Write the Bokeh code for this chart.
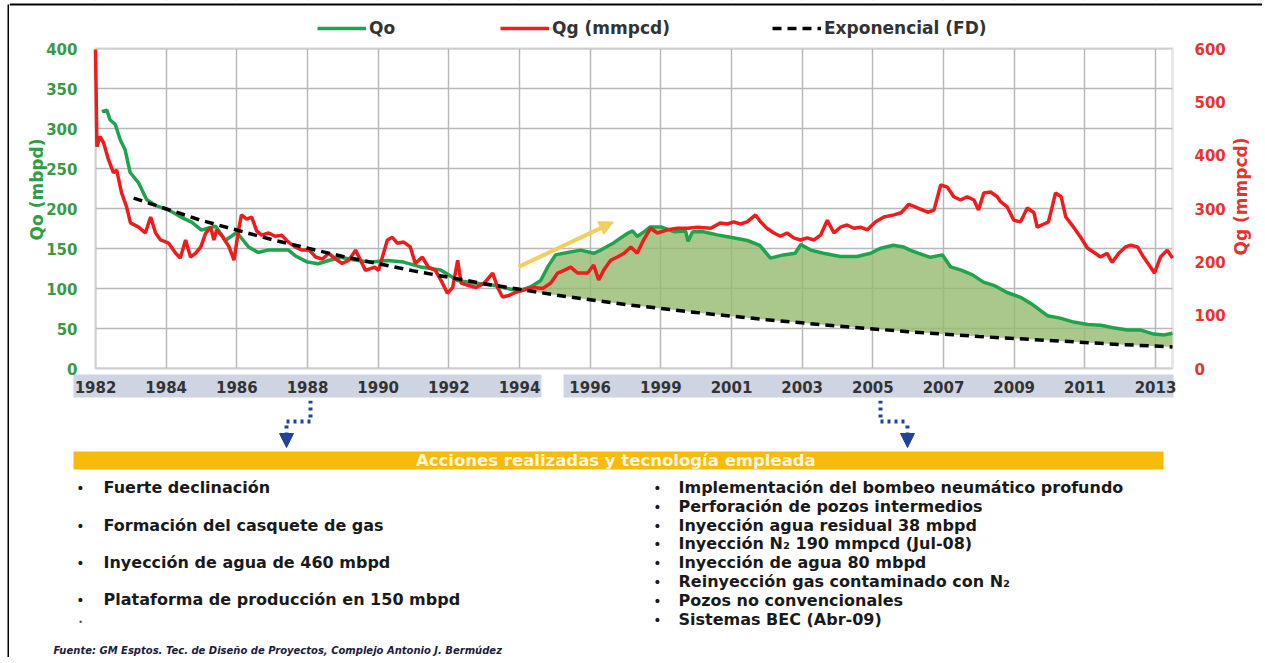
import math
from bokeh.plotting import figure
from bokeh.layouts import column, row
from bokeh.models import (Range1d, LinearAxis, FixedTicker, Label, BoxAnnotation, Span,
                          Arrow, NormalHead, Legend, LegendItem)
from bokeh.embed import file_html
from bokeh.resources import INLINE

# ---------------- data (x = position on the time axis) ----------------
tick_pos = [1982, 1984, 1986, 1988, 1990, 1992, 1994, 1996, 1998, 2000, 2002, 2004, 2006, 2008, 2010, 2012]
tick_labels = ["1982", "1984", "1986", "1988", "1990", "1992", "1994", "1996",
               "1999", "2001", "2003", "2005", "2007", "2009", "2011", "2013"]
qo_ticks = [0, 50, 100, 150, 200, 250, 300, 350, 400]
qg_ticks = [0, 100, 200, 300, 400, 500, 600]

qo_x = [1982.18, 1982.32, 1982.41, 1982.56, 1982.70, 1982.84, 1982.98, 1983.22, 1983.45, 1983.69,
        1984.07, 1984.43, 1984.72, 1985.00, 1985.16, 1985.40, 1985.67, 1986.00, 1986.33, 1986.60,
        1986.87, 1987.13, 1987.46, 1987.65, 1988.00, 1988.30, 1988.60, 1988.95, 1989.30, 1989.60,
        1989.80, 1990.27, 1990.72, 1991.20, 1991.77, 1992.25, 1992.70, 1993.27, 1993.66, 1993.97,
        1994.31, 1994.60, 1994.80, 1995.02, 1995.36, 1995.73, 1996.10, 1996.30, 1996.66, 1997.06,
        1997.20, 1997.33, 1997.50, 1997.70, 1998.00, 1998.37, 1998.70, 1998.77, 1998.90, 1999.20,
        1999.60, 1999.97, 2000.45, 2000.80, 2001.10, 2001.47, 2001.80, 2001.96, 2002.24, 2002.60,
        2003.08, 2003.55, 2003.94, 2004.20, 2004.58, 2004.86, 2005.05, 2005.30, 2005.63, 2005.97,
        2006.20, 2006.50, 2006.82, 2007.13, 2007.42, 2007.80, 2008.18, 2008.55, 2008.94, 2009.30,
        2009.68, 2010.08, 2010.45, 2010.80, 2011.20, 2011.58, 2011.95, 2012.25, 2012.48]
qo = [321, 323, 311, 305, 286, 273, 245, 232, 211, 204,
      198, 189, 183, 173, 175, 178, 160, 170, 152, 145,
      148, 148, 148, 141, 133, 131, 135, 139, 136, 134,
      133, 135, 133, 127, 123, 110, 107, 104, 100, 97,
      102, 110, 127, 142, 145, 148, 144, 148, 157, 169,
      172, 165, 170, 177, 177, 171, 172, 159, 171, 171,
      167, 164, 160, 154, 138, 142, 144, 155, 148, 144,
      140, 140, 144, 150, 154, 152, 148, 144, 139, 142,
      127, 123, 117, 108, 104, 95, 89, 79, 66, 63,
      58, 55, 54, 51, 48, 48, 43, 42, 44]

qg_x = [1982.00, 1982.04, 1982.13, 1982.23, 1982.37, 1982.51, 1982.60, 1982.74, 1982.88, 1982.99,
        1983.22, 1983.41, 1983.56, 1983.70, 1983.84, 1984.07, 1984.27, 1984.40, 1984.55, 1984.69,
        1984.83, 1984.98, 1985.12, 1985.26, 1985.35, 1985.43, 1985.59, 1985.78, 1985.92, 1986.05,
        1986.13, 1986.28, 1986.42, 1986.56, 1986.70, 1986.90, 1987.08, 1987.27, 1987.46, 1987.65,
        1987.84, 1988.05, 1988.23, 1988.42, 1988.60, 1988.80, 1988.98, 1989.17, 1989.36, 1989.50,
        1989.64, 1989.90, 1990.01, 1990.26, 1990.40, 1990.54, 1990.72, 1990.91, 1991.05, 1991.25,
        1991.42, 1991.62, 1991.82, 1991.96, 1992.11, 1992.25, 1992.35, 1992.54, 1992.77, 1993.00,
        1993.24, 1993.38, 1993.52, 1993.70, 1993.90, 1994.12, 1994.40, 1994.66, 1994.88, 1995.08,
        1995.26, 1995.45, 1995.64, 1995.93, 1996.10, 1996.24, 1996.38, 1996.58, 1996.77, 1996.96,
        1997.15, 1997.33, 1997.51, 1997.71, 1997.90, 1998.19, 1998.47, 1998.76, 1999.04, 1999.41,
        1999.69, 1999.88, 2000.06, 2000.25, 2000.44, 2000.68, 2000.82, 2001.00, 2001.20, 2001.38,
        2001.57, 2001.76, 2001.95, 2002.14, 2002.33, 2002.52, 2002.71, 2002.90, 2003.08, 2003.27,
        2003.46, 2003.65, 2003.84, 2004.08, 2004.31, 2004.60, 2004.80, 2005.02, 2005.26, 2005.55,
        2005.73, 2005.92, 2006.11, 2006.29, 2006.48, 2006.67, 2006.86, 2006.99, 2007.14, 2007.33,
        2007.52, 2007.60, 2007.80, 2007.99, 2008.18, 2008.37, 2008.56, 2008.65, 2008.84, 2008.97,
        2009.17, 2009.33, 2009.46, 2009.68, 2009.88, 2010.07, 2010.25, 2010.44, 2010.63, 2010.77,
        2010.96, 2011.15, 2011.30, 2011.49, 2011.66, 2011.86, 2011.97, 2012.14, 2012.33, 2012.48]
qg = [598, 416, 435, 423, 391, 367, 372, 329, 303, 273,
      265, 254, 284, 254, 241, 235, 216, 207, 241, 209,
      216, 228, 254, 265, 241, 260, 248, 228, 203, 260,
      288, 280, 284, 258, 250, 254, 248, 250, 237, 228,
      222, 222, 209, 205, 216, 205, 197, 203, 222, 203,
      184, 190, 184, 241, 246, 235, 237, 228, 197, 209,
      190, 184, 160, 141, 152, 203, 160, 156, 152, 160,
      179, 152, 134, 137, 143, 147, 152, 150, 160, 179,
      184, 190, 179, 179, 194, 166, 184, 203, 209, 216,
      228, 216, 241, 263, 254, 260, 263, 263, 265, 263,
      273, 271, 275, 271, 275, 288, 275, 263, 254, 248,
      254, 245, 241, 245, 241, 250, 278, 254, 265, 269,
      263, 265, 260, 275, 284, 288, 292, 308, 301, 293,
      297, 344, 340, 322, 316, 322, 316, 297, 329, 331,
      322, 314, 303, 278, 275, 301, 292, 265, 271, 275,
      329, 322, 284, 265, 246, 226, 218, 209, 216, 199,
      216, 228, 231, 228, 209, 190, 179, 209, 222, 207]

fd_x = [1983.08, 1985, 1987, 1989, 1991, 1993, 1994, 1995, 1997, 1999, 2001, 2003, 2005, 2007, 2009, 2011, 2012.48]
fd = [213, 185, 161, 140, 122, 106, 99, 92, 80, 70, 61, 53, 46, 40, 35, 30, 27]

trend_x = [1993.97, 1996.66]
trend_y = [127, 183]

legend_labels = ["Qo", "Qg (mmpcd)", "Exponencial (FD)"]
axis_titles = ["Qo (mbpd)", "Qg (mmpcd)"]
banner_text = "Acciones  realizadas  y tecnología  empleada"
left_items = ["Fuerte declinación", "Formación del casquete de gas",
              "Inyección de agua de 460 mbpd", "Plataforma de producción en 150 mbpd"]
right_items = ["Implementación del bombeo neumático profundo",
               "Perforación de pozos intermedios",
               "Inyección agua residual 38 mbpd",
               "Inyección N₂ 190 mmpcd (Jul-08)",
               "Inyección de agua 80 mbpd",
               "Reinyección gas contaminado con N₂",
               "Pozos no convencionales",
               "Sistemas BEC (Abr-09)"]
source_text = "Fuente: GM Esptos. Tec. de Diseño de Proyectos, Complejo Antonio J. Bermúdez"

# ---------------- styles / geometry (page pixels) ----------------
GREEN = "#1fa34e"
RED = "#ee1c1c"
FONT = "DejaVu Sans"
PAGE_W = 1262
LEFT_W = 9                     # strip holding the left border line
MAIN_W = PAGE_W - LEFT_W
FL, FR, FB = 95, 1172, 368     # plot-area edges (page px)
Y400 = 48                      # page y of the 400 gridline
MAIN_BOTTOM = 400
TEXT_BOTTOM = 657
X0, X1 = 1982.0, 2012.48
SX = (FR - FL) / (X1 - X0)
SY = (FB - Y400) / 400.0


def ix(x):
    return X0 + (x - FL) / SX


def iy(y):
    return (FB - y) / SY


def bare(w, h, xr, yr):
    f = figure(width=w, height=h, x_range=xr, y_range=yr, output_backend="svg",
               toolbar_location=None, min_border=0, x_axis_location=None, y_axis_location=None)
    f.grid.visible = False
    f.outline_line_color = None
    f.background_fill_color = "white"
    f.border_fill_color = "white"
    try:
        f.frame_align = False
    except Exception:
        pass
    return f


# ---- left border strip ----
left = bare(LEFT_W, TEXT_BOTTOM, Range1d(0, LEFT_W), Range1d(TEXT_BOTTOM, 0))
left.add_layout(BoxAnnotation(left=7, right=9, top=4, bottom=TEXT_BOTTOM, fill_color="black",
                              fill_alpha=1, line_alpha=0))

# ---- main chart (frame covers the whole canvas; axes drawn at fixed locations) ----
p = figure(width=MAIN_W, height=MAIN_BOTTOM, x_range=Range1d(ix(LEFT_W), ix(PAGE_W)),
           y_range=Range1d(iy(MAIN_BOTTOM), iy(0)),
           output_backend="svg", toolbar_location=None, min_border=0)
p.extra_y_ranges = {"qg": Range1d(iy(MAIN_BOTTOM) * 1.5, iy(0) * 1.5)}
p.background_fill_color = "white"
p.border_fill_color = "white"
p.outline_line_color = None
try:
    p.frame_align = False
except Exception:
    pass

for ax in [p.xaxis[0], p.yaxis[0]]:
    ax.major_tick_line_color = None
    ax.minor_tick_line_color = None
    ax.axis_line_color = None
    ax.major_label_text_font = FONT
    ax.major_label_text_font_style = "bold"
    ax.major_label_text_font_size = "15px"

p.xaxis.ticker = FixedTicker(ticks=tick_pos)
p.xaxis.major_label_overrides = {t: l for t, l in zip(tick_pos, tick_labels)}
p.xaxis.major_label_text_color = "#333333"
p.xaxis.major_label_standoff = 6
p.xaxis.fixed_location = 0

p.yaxis.ticker = FixedTicker(ticks=qo_ticks)
p.yaxis.major_label_text_color = "#3a9a44"
p.yaxis.major_label_standoff = 12
p.yaxis.fixed_location = X0

ry = LinearAxis(y_range_name="qg", ticker=FixedTicker(ticks=qg_ticks))
ry.major_tick_line_color = None
ry.minor_tick_line_color = None
ry.axis_line_color = None
ry.major_label_text_font = FONT
ry.major_label_text_font_style = "bold"
ry.major_label_text_font_size = "15px"
ry.major_label_text_color = "#e8322e"
ry.major_label_standoff = 16
ry.fixed_location = X1
p.add_layout(ry, "right")

p.xgrid.ticker = FixedTicker(ticks=tick_pos)
p.xgrid.grid_line_color = "#b8b8b8"
p.xgrid.grid_line_width = 1.5
p.ygrid.ticker = FixedTicker(ticks=qo_ticks)
p.ygrid.grid_line_color = "#b8b8b8"
p.ygrid.grid_line_width = 1.5

# keep the grid inside the plot area
for kw in [dict(bottom=400), dict(top=0), dict(right=X0), dict(left=X1)]:
    p.add_layout(BoxAnnotation(fill_color="white", fill_alpha=1, line_alpha=0, level="underlay", **kw))
# band behind the year labels
for l, r in [(73, 541), (563, 1173)]:
    p.add_layout(BoxAnnotation(left=ix(l), right=ix(r), top=iy(374), bottom=iy(397),
                               fill_color="#cfd4e3", fill_alpha=1, line_alpha=0, level="underlay"))
# plot-area border
p.add_layout(BoxAnnotation(left=X0, right=X1, bottom=0, top=400, fill_alpha=0,
                           line_color="#b4b4b4", line_width=3, level="underlay"))
# page border (top)
p.add_layout(BoxAnnotation(top=iy(3), bottom=iy(5), fill_color="black", fill_alpha=1, line_alpha=0))

# gained-production fill between Qo and the exponential decline
k0 = next(i for i, x in enumerate(qo_x) if x >= 1993.97)
f0 = next(i for i, x in enumerate(fd_x) if x >= 1994)
p.patch(qo_x[k0:] + fd_x[f0:][::-1], qo[k0:] + fd[f0:][::-1],
        fill_color="#95ba6f", fill_alpha=0.8, line_alpha=0)

r_qo = p.line(qo_x, qo, line_color=GREEN, line_width=3.5)
r_qg = p.line(qg_x, qg, line_color=RED, line_width=3.5, y_range_name="qg")
r_fd = p.line(fd_x, fd, line_color="black", line_width=3.5, line_dash="9 6")

p.add_layout(Arrow(x_start=trend_x[0], y_start=trend_y[0], x_end=trend_x[1], y_end=trend_y[1],
                   line_color="#f2cf5c", line_width=4,
                   end=NormalHead(size=14, fill_color="#f2cf5c", line_color="#f2cf5c")))

for lab, rend, xpx in zip(legend_labels, [r_qo, r_qg, r_fd], [317, 500, 772]):
    lg = Legend(items=[LegendItem(label=lab, renderers=[rend])],
                location=(xpx - LEFT_W, MAIN_BOTTOM - 38), orientation="horizontal",
                margin=0, padding=0, spacing=0, glyph_width=49, glyph_height=20,
                label_height=20, label_standoff=3,
                label_text_font=FONT, label_text_font_style="bold",
                label_text_font_size="17px", label_text_color="#333333",
                border_line_alpha=0, background_fill_alpha=0)
    p.add_layout(lg)

# axis titles
for txt, xpx, ypx, col in zip(axis_titles, [36, 1240], [189, 196], ["#2e9e44", "#e8322e"]):
    p.add_layout(Label(x=ix(xpx), y=iy(ypx), text=txt, angle=math.pi / 2, text_align="center",
                       text_baseline="middle", text_font=FONT, text_font_style="bold",
                       text_font_size="17px", text_color=col))

# ---- text panel below the chart (page pixel coordinates) ----
t = bare(MAIN_W, TEXT_BOTTOM - MAIN_BOTTOM, Range1d(LEFT_W, PAGE_W), Range1d(TEXT_BOTTOM, MAIN_BOTTOM))

BLUE = "#22439c"
for pts in [[(310, 400), (310, 421), (286, 421)], [(880, 400), (880, 421), (907, 421)]]:
    for (xa, ya), (xb, yb) in zip(pts[:-1], pts[1:]):
        t.add_layout(Arrow(x_start=xa, y_start=ya, x_end=xb, y_end=yb, end=None,
                           line_color=BLUE, line_width=4, line_dash="3 4"))
    xe = pts[-1][0]
    t.add_layout(Arrow(x_start=xe, y_start=425, x_end=xe, y_end=447,
                       line_color=BLUE, line_width=4, line_dash="3 4",
                       end=NormalHead(size=14, fill_color=BLUE, line_color=BLUE)))

t.add_layout(BoxAnnotation(left=73, right=1163, top=451, bottom=469,
                           fill_color="#f8bb0c", fill_alpha=1, line_alpha=0))
t.add_layout(Label(x=624, y=460, text=banner_text, text_align="center",
                   text_baseline="middle", text_font=FONT, text_font_style="bold",
                   text_font_size="16.5px", text_color="#fff6de"))

for txt, yy in zip(left_items, [487, 525, 562, 599]):
    t.add_layout(Label(x=80, y=yy, text="•", text_align="center", text_baseline="middle",
                       text_font=FONT, text_font_size="14px", text_color="#1a1a1a"))
    t.add_layout(Label(x=103, y=yy, text=txt, text_baseline="middle", text_font=FONT,
                       text_font_style="bold", text_font_size="16px", text_color="#1a1a1a"))
t.add_layout(Label(x=80, y=622, text="•", text_align="center", text_baseline="middle",
                   text_font=FONT, text_font_size="8px", text_color="#555555"))
for txt, yy in zip(right_items, [487, 506, 525, 543, 562, 581, 600, 619]):
    t.add_layout(Label(x=657, y=yy, text="•", text_align="center", text_baseline="middle",
                       text_font=FONT, text_font_size="14px", text_color="#1a1a1a"))
    t.add_layout(Label(x=678, y=yy, text=txt, text_baseline="middle", text_font=FONT,
                       text_font_style="bold", text_font_size="16px", text_color="#1a1a1a"))

t.add_layout(Label(x=53, y=650, text=source_text, text_baseline="middle", text_font=FONT,
                   text_font_style="bold italic", text_font_size="10px", text_color="#1c1c3c"))

layout = row(left, column(p, t))
open("out.html", "w").write(file_html(layout, INLINE))
